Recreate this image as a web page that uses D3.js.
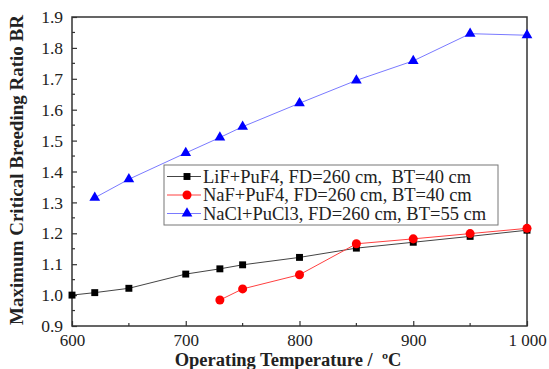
<!DOCTYPE html>
<html>
<head>
<meta charset="utf-8">
<script src="https://cdn.jsdelivr.net/npm/d3@7"></script>
<style>
  body { margin: 0; background: #fff; }
  svg { display: block; }
  svg text { font-family: "Liberation Serif", "DejaVu Serif", serif; }
</style>
</head>
<body>
<div id="chart"></div>
<script>
// data
const tempLiF = [600, 620, 650, 700, 730, 750, 800, 850, 900, 950, 1000];
const brLiF = [1.0, 1.008, 1.022, 1.068, 1.085, 1.098, 1.122, 1.152, 1.171, 1.19, 1.21];

const tempNaF = [730, 750, 800, 850, 900, 950, 1000];
const brNaF = [0.984, 1.02, 1.066, 1.166, 1.182, 1.199, 1.216];

const tempNaCl = [620, 650, 700, 730, 750, 800, 850, 900, 950, 1000];
const brNaCl = [1.315, 1.375, 1.46, 1.51, 1.545, 1.621, 1.695, 1.758, 1.846, 1.841];

const xTicks = [600, 700, 800, 900, 1000];
const xTickLabels = ["600", "700", "800", "900", "1 000"];
const yTicks = [0.9, 1.0, 1.1, 1.2, 1.3, 1.4, 1.5, 1.6, 1.7, 1.8, 1.9];

const legendLabels = [
  "LiF+PuF4, FD=260 cm,\u00a0 BT=40 cm",
  "NaF+PuF4, FD=260 cm, BT=40 cm",
  "NaCl+PuCl3, FD=260 cm, BT=55 cm"
];

const W = 549, H = 369;
const margin = {top: 17, right: 22, bottom: 43, left: 72};
const width = W - margin.left - margin.right,
      height = H - margin.top - margin.bottom;

const svg = d3.select("#chart").append("svg")
  .attr("width", W).attr("height", H);

const g = svg.append("g")
  .attr("transform", `translate(${margin.left},${margin.top})`);

const x = d3.scaleLinear().domain([600, 1000]).range([0, width]);
const y = d3.scaleLinear().domain([0.9, 1.9]).range([height, 0]);

// minor ticks (every 50 / 0.05), inward
const xMinor = d3.range(650, 1000, 100);
const yMinor = d3.range(0.95, 1.9, 0.1);

g.selectAll(".xminor").data(xMinor).enter().append("line")
  .attr("x1", d => x(d)).attr("x2", d => x(d))
  .attr("y1", height).attr("y2", height - 3)
  .attr("stroke", "#333").attr("stroke-width", 1.2);
g.selectAll(".yminor").data(yMinor).enter().append("line")
  .attr("y1", d => y(d)).attr("y2", d => y(d))
  .attr("x1", 0).attr("x2", 3)
  .attr("stroke", "#333").attr("stroke-width", 1.2);

// axes
const xAxis = d3.axisBottom(x).tickValues(xTicks)
  .tickFormat((d, i) => xTickLabels[i]).tickSizeInner(-5).tickSizeOuter(0).tickPadding(8);
const yAxis = d3.axisLeft(y).tickValues(yTicks)
  .tickFormat(d3.format(".1f")).tickSizeInner(-5).tickSizeOuter(0).tickPadding(9);

const gx = g.append("g").attr("transform", `translate(0,${height})`).call(xAxis);
const gy = g.append("g").call(yAxis);
[gx, gy].forEach(a => {
  a.attr("font-family", null);
  a.select(".domain").remove();
  a.selectAll(".tick line").attr("stroke", "#333").attr("stroke-width", 1.2);
  a.selectAll("text").attr("font-size", 17.5).attr("fill", "#222");
});
gx.selectAll("text").attr("font-size", 17);

// frame
g.append("rect").attr("width", width).attr("height", height)
  .attr("fill", "none").attr("stroke", "#333").attr("stroke-width", 1.5);

// series
const series = [
  {t: tempLiF, v: brLiF, line: "#444", fill: "#000", shape: d3.symbolSquare, size: 48},
  {t: tempNaF, v: brNaF, line: "#ff4040", fill: "#ff0000", shape: d3.symbolCircle, size: 64},
  {t: tempNaCl, v: brNaCl, line: "#7a7aff", fill: "#0000ff", shape: d3.symbolTriangle, size: 50}
];

const line = d3.line().x(d => x(d[0])).y(d => y(d[1]));

series.forEach(s => {
  const pts = s.t.map((t, i) => [t, s.v[i]]);
  g.append("path").datum(pts)
    .attr("d", line).attr("fill", "none")
    .attr("stroke", s.line).attr("stroke-width", 1);
  g.selectAll(null).data(pts).enter().append("path")
    .attr("d", d3.symbol().type(s.shape).size(s.size))
    .attr("transform", d => `translate(${x(d[0])},${y(d[1])})`)
    .attr("fill", s.fill);
});

// legend
const lg = svg.append("g").attr("transform", "translate(164,165)");
lg.append("rect").attr("width", 334).attr("height", 60)
  .attr("fill", "#fff").attr("stroke", "#777").attr("stroke-width", 1);
series.forEach((s, i) => {
  const cy = 11.5 + i * 18.5;
  lg.append("line").attr("x1", 3).attr("x2", 37).attr("y1", cy).attr("y2", cy)
    .attr("stroke", s.line).attr("stroke-width", 1);
  lg.append("path").attr("d", d3.symbol().type(s.shape).size(s.size))
    .attr("transform", `translate(23,${cy})`).attr("fill", s.fill);
  lg.append("text").attr("x", 39).attr("y", cy + 6)
    .attr("font-size", 18.5).attr("fill", "#222")
    .text(legendLabels[i]);
});

// axis titles
svg.append("text")
  .attr("x", 288).attr("y", H - 3)
  .attr("text-anchor", "middle").attr("font-weight", "bold")
  .attr("font-size", 18.5).attr("fill", "#222")
  .text("Operating Temperature /\u00a0 \u00baC");

svg.append("text")
  .attr("transform", `translate(23,170) rotate(-90)`)
  .attr("text-anchor", "middle").attr("font-weight", "bold")
  .attr("font-size", 19).attr("fill", "#222")
  .text("Maximum Critical Breeding Ratio BR");
</script>
</body>
</html>
